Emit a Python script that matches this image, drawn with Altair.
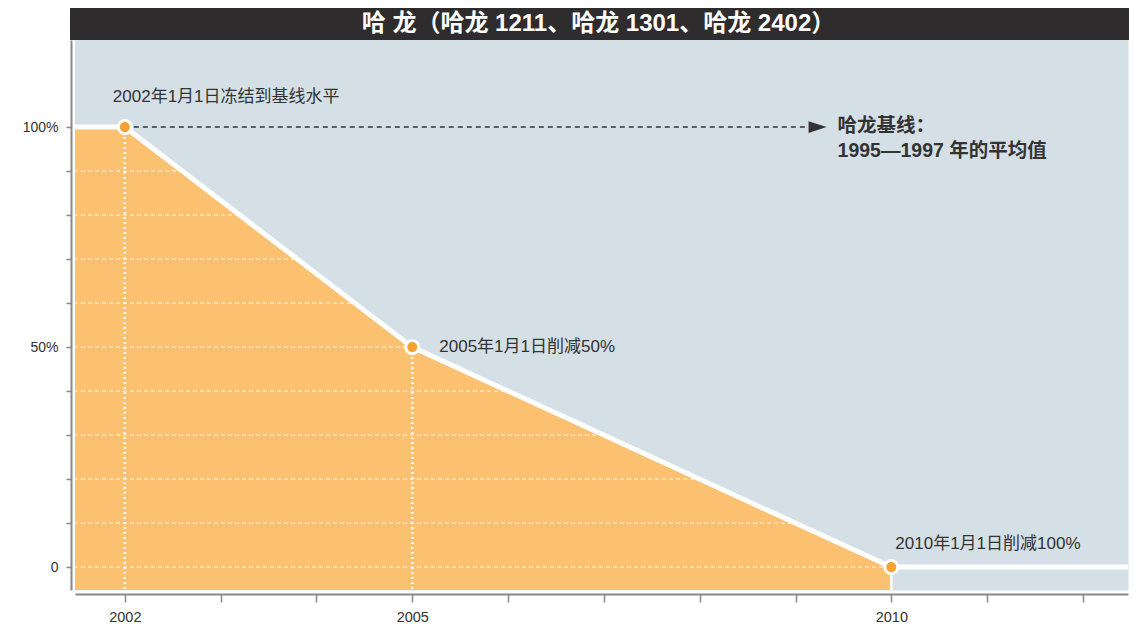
import altair as alt
import pandas as pd

# ---- data ----
TITLE = "哈 龙（哈龙 1211、哈龙 1301、哈龙 2402）"
YEARS = [2002, 2005, 2010]
LEVELS = [100, 50, 0]
LABELS = ["2002年1月1日冻结到基线水平", "2005年1月1日削减50%", "2010年1月1日削减100%"]
BASELINE_LINES = ["哈龙基线：", "1995—1997 年的平均值"]
GRID_LEVELS = [0, 10, 20, 30, 40, 50, 60, 70, 80, 90]
Y_TICKS = [0, 10, 20, 30, 40, 50, 60, 70, 80, 90, 100]
X_TICKS = list(range(2002, 2013))
X_LABELLED = [2002, 2005, 2010]
X_DOMAIN = [2001.48, 2012.47]
Y_DOMAIN = [-5.2, 119.8]
ARROW_END = 2009.13
ARROW_HEAD = 2009.23

W, H = 1053, 550
FONT = "Liberation Sans, Noto Sans CJK SC"
BLUE = "#d4dfe6"
ORANGE = "#fcc071"
DOT = "#f6a22e"
DARK = "#333333"

line_df = pd.DataFrame({
    "year": [X_DOMAIN[0]] + YEARS + [X_DOMAIN[1]],
    "level": [LEVELS[0]] + LEVELS + [LEVELS[-1]],
})
orange_df = line_df[line_df["year"] <= YEARS[-1]]
pts = pd.DataFrame({"year": YEARS, "level": LEVELS, "label": LABELS})
grid_df = pd.DataFrame({"level": GRID_LEVELS})
arrow_df = pd.DataFrame({"year": [YEARS[0]], "year2": [ARROW_END], "level": [LEVELS[0]]})
head_df = pd.DataFrame({"year": [ARROW_HEAD], "level": [LEVELS[0]],
                        "l1": [BASELINE_LINES[0]], "l2": [BASELINE_LINES[1]]})
title_df = pd.DataFrame({"t": [TITLE]})

xs = alt.Scale(domain=X_DOMAIN, nice=False, zero=False)
ys = alt.Scale(domain=Y_DOMAIN, nice=False, zero=False)

x_axis = alt.Axis(values=X_TICKS, title=None, offset=4, tickSize=8, labelPadding=8,
                  labelExpr="indexof([2002,2005,2010], datum.value) >= 0 ? toString(datum.value) : ''",
                  labelFont=FONT, labelFontSize=14.5, labelColor=DARK, domainColor="#888888",
                  domainWidth=2, tickColor="#888888", tickWidth=1.5, grid=False)
y_axis = alt.Axis(values=Y_TICKS, title=None, offset=4, tickSize=5, labelPadding=8,
                  labelExpr="datum.value == 100 ? '100%' : datum.value == 50 ? '50%' : datum.value == 0 ? '0' : ''",
                  labelFont=FONT, labelFontSize=14, labelColor=DARK, domainColor="#888888",
                  domainWidth=2, tickColor="#888888", tickWidth=1.5, grid=False)

X = alt.X("year:Q", scale=xs, axis=x_axis)
Y = alt.Y("level:Q", scale=ys, axis=y_axis)

orange = alt.Chart(orange_df).mark_area(color=ORANGE, opacity=1).encode(
    x=X, y=Y, y2=alt.datum(Y_DOMAIN[0]))

grid = alt.Chart(grid_df).mark_rule(color="white", strokeWidth=1, strokeDash=[4, 3], opacity=0.9).encode(
    y=alt.Y("level:Q", scale=ys, axis=y_axis))

cover = alt.Chart(line_df).mark_area(color=BLUE, opacity=1).encode(
    x=X, y=Y, y2=alt.datum(Y_DOMAIN[1]))

dotted = alt.Chart(pts[pts["year"] < YEARS[-1]]).mark_rule(
    color="white", strokeWidth=2.5, strokeDash=[2, 3]).encode(
    x=X, y=Y, y2=alt.datum(Y_DOMAIN[0]))

solid_v = alt.Chart(pts[pts["year"] == YEARS[-1]]).mark_rule(
    color="white", strokeWidth=2.5).encode(
    x=X, y=Y, y2=alt.datum(Y_DOMAIN[0]))

white_line = alt.Chart(line_df).mark_line(color="white", strokeWidth=5).encode(x=X, y=Y)

arrow = alt.Chart(arrow_df).mark_rule(color=DARK, strokeWidth=1.5, strokeDash=[5, 4]).encode(
    x=X, x2="year2:Q", y=Y)

head = alt.Chart(head_df).mark_point(
    shape="M-1,-0.65L1,0L-1,0.65Z", size=324, filled=True, color=DARK, opacity=1).encode(x=X, y=Y)

points = alt.Chart(pts).mark_point(
    shape="circle", size=170, filled=True, fill=DOT, stroke="white", strokeWidth=3, opacity=1
).encode(x=X, y=Y)

def note(i, dx, dy):
    return alt.Chart(pts.iloc[[i]]).mark_text(
        align="left", baseline="middle", dx=dx, dy=dy, font=FONT, fontSize=17, color=DARK
    ).encode(x=X, y=Y, text="label:N")

base1 = alt.Chart(head_df).mark_text(
    align="left", baseline="middle", dx=20, dy=-1, font=FONT, fontSize=19.5, fontWeight="bold", color=DARK
).encode(x=X, y=Y, text="l1:N")
base2 = alt.Chart(head_df).mark_text(
    align="left", baseline="middle", dx=20, dy=24, font=FONT, fontSize=19.5, fontWeight="bold", color=DARK
).encode(x=X, y=Y, text="l2:N")

title_bar = alt.Chart(title_df).mark_rect(color="#2e2c2d").encode(
    x=alt.value(-5), x2=alt.value(W + 1), y=alt.value(-33), y2=alt.value(0))
title_text = alt.Chart(title_df).mark_text(
    font=FONT, fontSize=24, fontWeight="bold", color="white", align="center", baseline="middle"
).encode(x=alt.value(W / 2 - 3), y=alt.value(-16), text="t:N")

chart = alt.layer(
    orange, grid, cover, dotted, solid_v, white_line, arrow, head, points,
    note(0, -12, -30), note(1, 27, 0), note(2, 4, -23), base1, base2,
    title_bar, title_text
).properties(
    width=W, height=H,
    padding={"left": 67, "top": 32, "right": 5, "bottom": 40},
    autosize=alt.AutoSizeParams(type="none"),
    background="white",
).configure_view(fill=BLUE, stroke="transparent")

chart.save("out.html", embed_options={"renderer": "svg", "actions": False})
